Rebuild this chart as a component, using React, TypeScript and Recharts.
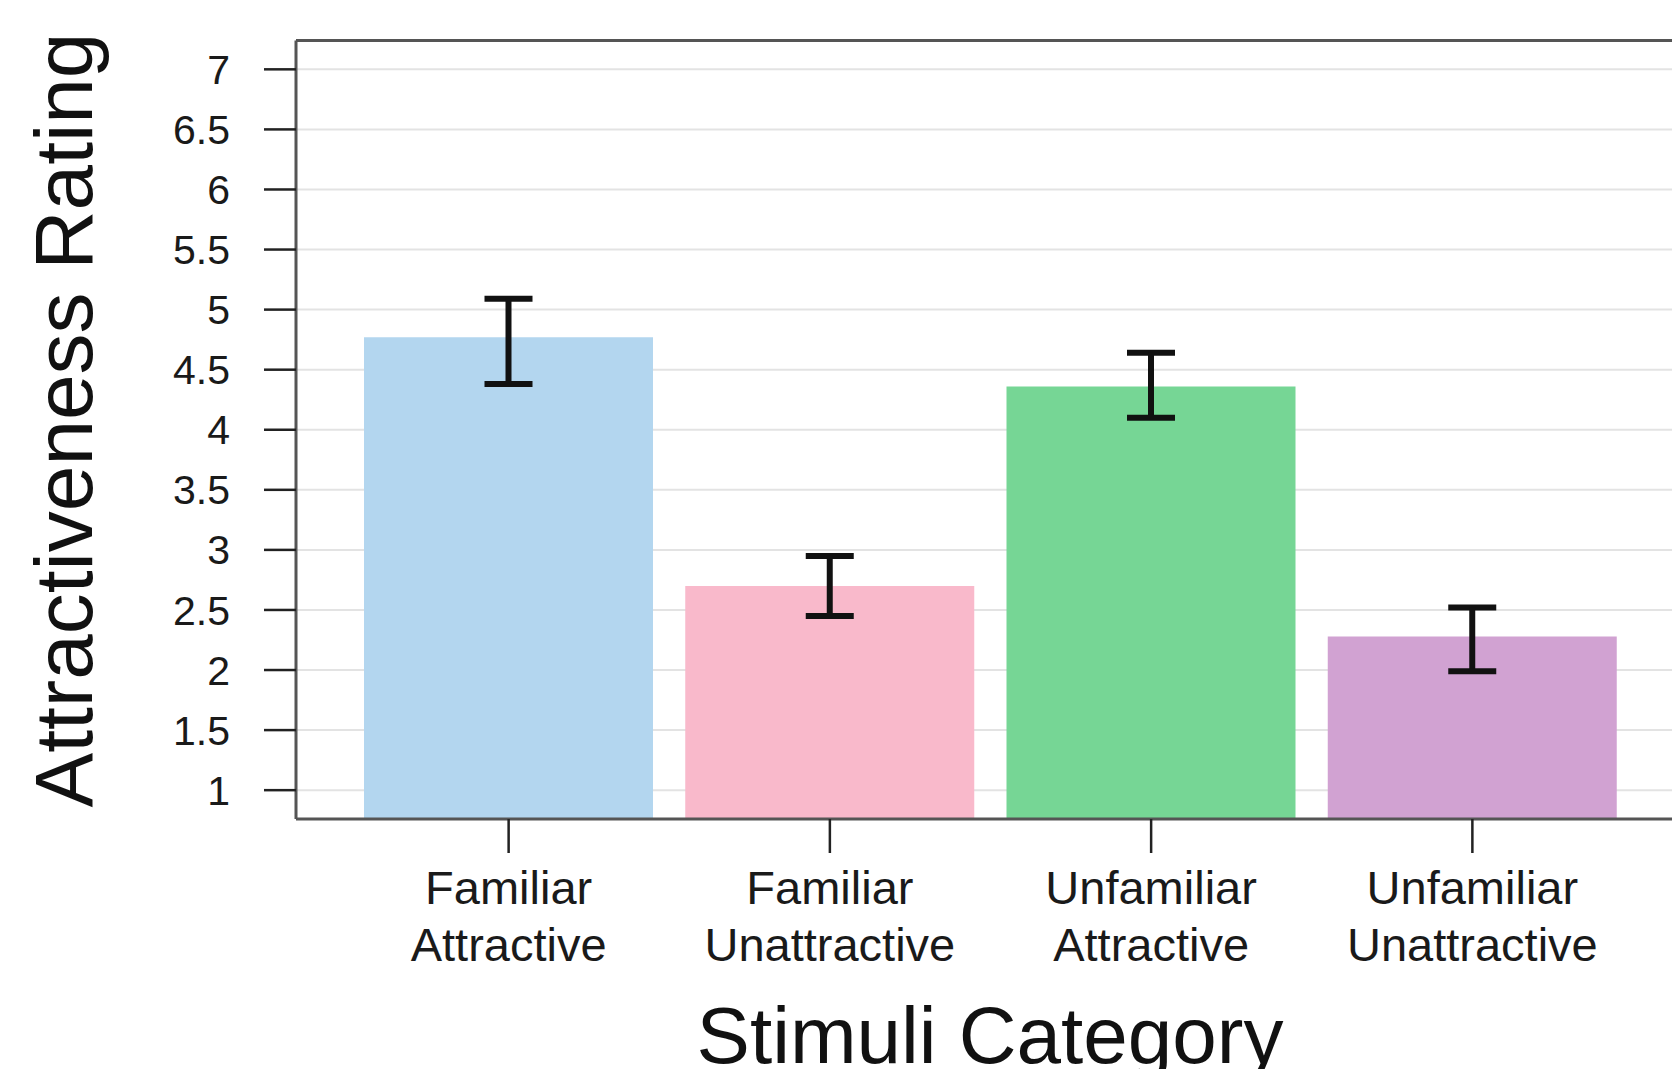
import React from 'react';
import { BarChart, Bar, XAxis, YAxis, CartesianGrid, ErrorBar, Cell } from 'recharts';

const categories = ['Familiar Attractive', 'Familiar Unattractive', 'Unfamiliar Attractive', 'Unfamiliar Unattractive'];
const means = [4.77, 2.70, 4.36, 2.28];
const lowers = [4.38, 2.45, 4.10, 1.99];
const uppers = [5.09, 2.95, 4.64, 2.52];
const barColors = ['#B3D6EF', '#F9B9CB', '#76D695', '#D1A2D2'];
const yTicks = [1, 1.5, 2, 2.5, 3, 3.5, 4, 4.5, 5, 5.5, 6, 6.5, 7];
const yDomain = [0.76, 7.24];
const yAxisTitle = 'Attractiveness Rating';
const xAxisTitle = 'Stimuli Category';

const data = categories.map((c, i) => ({
  category: c,
  mean: means[i],
  err: [means[i] - lowers[i], uppers[i] - means[i]],
}));

const FONT = '"Liberation Sans", Arial, Helvetica, sans-serif';

const XTick = (props: any) => {
  const { x, y, payload } = props;
  const parts = String(payload.value).split(' ');
  return (
    <g>
      {parts.map((p: string, i: number) => (
        <text key={i} x={x} y={y + 49 + i * 57} textAnchor="middle" fontFamily={FONT} fontSize={47} fill="#1a1a1a">
          {p}
        </text>
      ))}
    </g>
  );
};

const YLabel = () => (
  <text transform="rotate(-90 92 420)" x={92} y={420} textAnchor="middle" fontFamily={FONT} fontSize={82} fill="#111">
    {yAxisTitle}
  </text>
);

const XLabel = () => (
  <text x={990} y={1063} textAnchor="middle" fontFamily={FONT} fontSize={80} fill="#111">
    {xAxisTitle}
  </text>
);

export default function App() {
  return (
    <div style={{ position: 'absolute', left: 0, top: 0, width: 1672, height: 1069, overflow: 'hidden', background: '#fff' }}>
      <BarChart
        width={1700}
        height={1069}
        data={data}
        margin={{ top: 38.5, right: 15, bottom: 0, left: 0 }}
        barSize={289}
      >
        <CartesianGrid horizontal vertical={false} stroke="#E3E3E3" strokeWidth={2} />
        <XAxis
          dataKey="category"
          height={250}
          padding={{ left: 52, right: 52 }}
          tickSize={34}
          tickLine={{ stroke: '#222', strokeWidth: 2.5 }}
          axisLine={{ stroke: '#555', strokeWidth: 3 }}
          tick={<XTick />}
          interval={0}
          label={<XLabel />}
        />
        <XAxis
          xAxisId="top"
          orientation="top"
          dataKey="category"
          height={2}
          tick={false}
          tickLine={false}
          axisLine={{ stroke: '#555', strokeWidth: 3 }}
        />
        <YAxis
          type="number"
          domain={yDomain}
          allowDataOverflow
          ticks={yTicks}
          interval={0}
          width={296}
          tickSize={32}
          tickMargin={34}
          tickLine={{ stroke: '#222', strokeWidth: 2.5 }}
          axisLine={{ stroke: '#555', strokeWidth: 3 }}
          tick={{ fontFamily: FONT, fontSize: 41, fill: '#1a1a1a' }}
          label={<YLabel />}
        />
        <Bar dataKey="mean" isAnimationActive={false}>
          {data.map((d, i) => (
            <Cell key={d.category} fill={barColors[i]} />
          ))}
          <ErrorBar dataKey="err" direction="y" width={24} strokeWidth={6} stroke="#111" />
        </Bar>
      </BarChart>
    </div>
  );
}
